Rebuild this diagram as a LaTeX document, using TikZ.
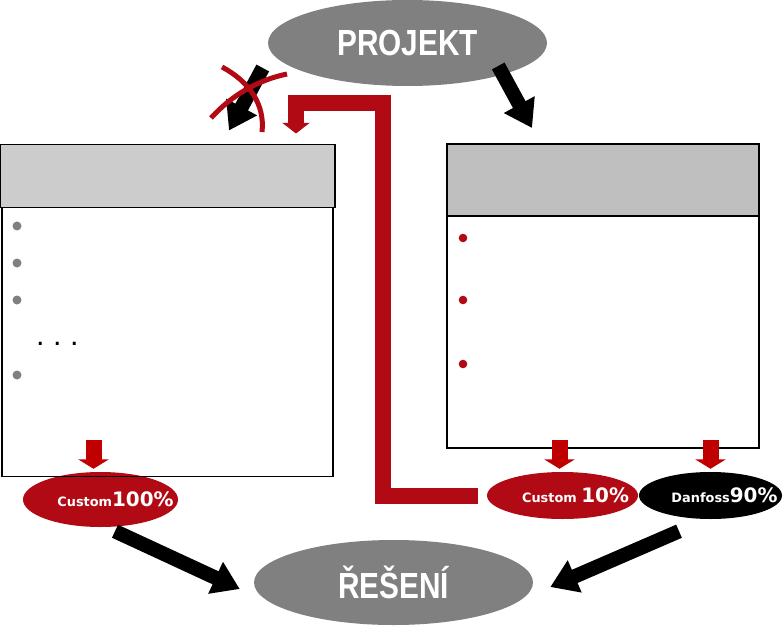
\documentclass[tikz,border=0pt]{standalone}
\usepackage{fontspec}
\usetikzlibrary{arrows.meta,positioning,shapes.geometric,calc}
\newfontfamily\narrowsans[FakeStretch=0.82]{Liberation Sans}
\newfontfamily\verdsans{DejaVu Sans}
\newfontfamily\plainsans{Liberation Sans}
\definecolor{barred}{RGB}{178,10,20}
\definecolor{tipred}{RGB}{192,0,0}
\definecolor{ovalgray}{RGB}{128,128,128}
% small word + big percentage, pushed right inside its oval
\newcommand{\ovaltext}[3]{\makebox[0pt]{\hspace*{#1}\fontsize{11}{11}\selectfont #2\fontsize{17}{17}\selectfont #3}}
\tikzset{
  oval/.style   ={ellipse, inner sep=0pt, text=white},
  bigoval/.style={oval, fill=ovalgray, minimum width=8.37cm, minimum height=2.58cm,
                  font=\narrowsans\bfseries\fontsize{31}{31}\selectfont},
  smalloval/.style={oval, minimum height=1.41cm, font=\verdsans\bfseries},
  hdr/.style    ={draw, line width=1.2pt, inner sep=0pt, outer sep=0pt},
  bodybox/.style={draw, line width=1.2pt, inner sep=0pt, outer sep=0pt},
  blkarrow/.style={line width=4.3mm, -{Triangle[length=8mm,width=10mm]}},
  redarrow/.style={tipred, line width=4.8mm, -{Triangle[length=2.8mm,width=9mm]}},
  redbar/.style ={barred, line width=4.8mm, line join=miter, -{Triangle[length=3.2mm,width=8.1mm]}},
  cross/.style  ={barred, line width=1.5mm}
}
\begin{document}
\begin{tikzpicture}[x=0.3mm, y=-0.3mm]
\useasboundingbox (0,0) rectangle (783,630);
% ovals
\node[bigoval] (proj) at (407.5,43) {PROJEKT};
\node[bigoval, minimum height=2.55cm] (res) at (393.5,582.5) {ŘEŠENÍ};
\node[smalloval, fill=barred, minimum width=4.65cm, minimum height=1.65cm] (c100) at (100.5,499.5)
  {\ovaltext{9mm}{Custom}{100\%}};
\node[smalloval, fill=barred, minimum width=4.53cm] (c10) at (562.5,495.5)
  {\ovaltext{7.8mm}{Custom\ }{10\%}};
\node[smalloval, fill=black, minimum width=4.29cm] (d90) at (710.5,495.5)
  {\ovaltext{8.4mm}{Danfoss}{90\%}};
% boxes
\node[hdr, fill=black!20, minimum width=10.05cm, minimum height=1.89cm] (lhead) at (167.5,176) {};
\node[bodybox, minimum width=9.93cm, minimum height=8.07cm, below=0pt of lhead] (lbody) {};
\node[hdr, fill=black!25, minimum width=9.36cm, minimum height=2.16cm] (rhead) at (603,180) {};
\node[bodybox, minimum width=9.36cm, minimum height=6.96cm, below=0pt of rhead] (rbody) {};
% bullets
\foreach \y in {226,263,300,375}
  \fill[ovalgray] (17,\y) circle (4.5);
\foreach \y in {238,300,364}
  \fill[barred] (463,\y) circle (4.3);
\node[anchor=base west, inner sep=0pt, font=\plainsans\fontsize{26}{26}\selectfont] (dots) at (36,345) {.\ .\ .};
% arrows
\draw[blkarrow] ($(proj.west)+(-5,25)$) -- ($(lhead.north east)+(-106,-14)$);
\draw[blkarrow] ($(proj.east)+(-49,23)$) -- ($(rhead.north)+(-71,-16)$);
\draw[blkarrow] ($(c100.south)+(14.5,4)$) -- ($(res.west)+(-14,6.5)$);
\draw[blkarrow] ($(d90.south)+(-31.5,12)$) -- ($(res.east)+(17,4.5)$);
\draw[redarrow] ($(c100.north)+(-7,-32)$) -- ($(c100.north)+(-7,-3)$);
\draw[redarrow] ($(c10.north)+(-3,-32)$) -- ($(c10.north)+(-3,-3)$);
\draw[redarrow] ($(d90.north)+(0,-32)$) -- ($(d90.north)+(0,-3)$);
\draw[redbar, shorten <=2.7mm, shorten >=3.3mm] (c10.west) -| (383,103) -| (lhead.north -| 296,0);
% crossed out
\draw[cross] (222,67) .. controls (250,82) and (265,105) .. (262,132);
\draw[cross] (211,118) .. controls (232,95) and (258,80) .. (287,74);
\end{tikzpicture}
\end{document}
